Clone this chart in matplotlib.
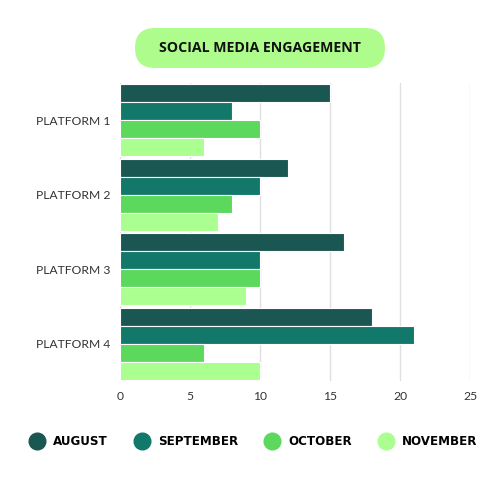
import matplotlib
matplotlib.use("Agg")
import matplotlib.pyplot as plt
import numpy as np
from matplotlib.lines import Line2D
from matplotlib.patches import FancyBboxPatch

platforms = ["PLATFORM 1", "PLATFORM 2", "PLATFORM 3", "PLATFORM 4"]
months = ["AUGUST", "SEPTEMBER", "OCTOBER", "NOVEMBER"]
august = [15, 12, 16, 18]
september = [8, 10, 10, 21]
october = [10, 8, 10, 6]
november = [6, 7, 9, 10]
colors = ["#1b5752", "#12786a", "#5cd85c", "#aaff90"]

series = [august, september, october, november]

fig = plt.figure(figsize=(5, 5), dpi=100)
ax = fig.add_axes([0.24, 0.238, 0.70, 0.596])

y = np.arange(len(platforms))
step = 0.24
for i, (vals, col) in enumerate(zip(series, colors)):
    ax.barh(y + (i - 1.5) * step, vals, height=step, color=col,
            edgecolor="white", linewidth=0.8, zorder=3)

ax.set_xlim(0, 25)
ax.set_ylim(3.5, -0.5)
ax.set_xticks([0, 5, 10, 15, 20, 25])
ax.set_yticks(y)
ax.set_yticklabels(platforms)
ax.grid(axis="x", color="#e0e0e0", linewidth=1, zorder=0)
for s in ax.spines.values():
    s.set_visible(False)
ax.tick_params(length=0, labelsize=8.7, labelcolor="#333333", pad=7,
               labelfontfamily="Lato")

# title pill
box = FancyBboxPatch((0.27, 0.864), 0.50, 0.08,
                     boxstyle="round,pad=0,rounding_size=0.04",
                     transform=fig.transFigure, facecolor="#aefc8c",
                     edgecolor="none")
fig.patches.append(box)
fig.text(0.52, 0.904, "SOCIAL MEDIA ENGAGEMENT", ha="center", va="center",
         fontsize=10.2, fontweight="bold", family="Open Sans", color="#111111")

handles = [Line2D([], [], marker="o", linestyle="none", markersize=12,
                  markerfacecolor=c, markeredgecolor=c) for c in colors]
leg = fig.legend(handles, months, loc="center", bbox_to_anchor=(0.502, 0.117),
                 ncol=4, frameon=False, handletextpad=0.35, columnspacing=1.85,
                 prop={"family": "DejaVu Sans", "weight": "bold", "size": 8.6})

fig.savefig("out.png", dpi=100)
